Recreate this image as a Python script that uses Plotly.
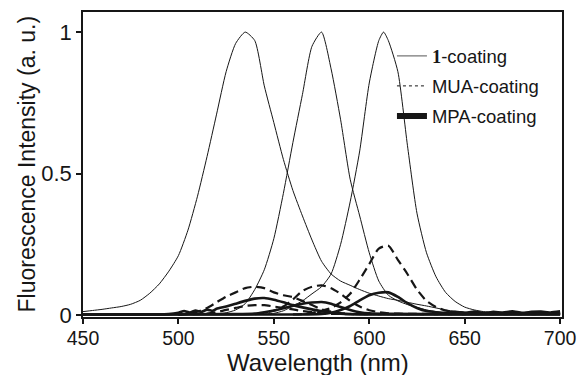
import plotly.graph_objects as go

# ---- data ----
wl_a = [450, 455, 460, 465, 470, 475, 480, 485, 490, 495, 500, 505, 510, 515, 520, 525, 530, 535, 540,
        545, 550, 555, 560, 565, 570, 575, 580, 585, 590, 595, 600, 605, 610, 615, 620, 625, 630, 635,
        640, 645, 650, 655, 660, 665, 670, 675, 680, 685, 690, 695, 700]
coat1_a = [0.012, 0.016, 0.020, 0.025, 0.030, 0.038, 0.052, 0.077, 0.11, 0.155, 0.21, 0.30, 0.42, 0.56,
           0.71, 0.86, 0.96, 1.0, 0.97, 0.81, 0.68, 0.55, 0.44, 0.35, 0.265, 0.19, 0.145, 0.12, 0.105,
           0.09, 0.077, 0.067, 0.058, 0.052, 0.045, 0.038, 0.032, 0.025, 0.018, 0.013, 0.010, 0.008,
           0.007, 0.006, 0.006, 0.005, 0.005, 0.004, 0.005, 0.004, 0.004]

wl_b = [450, 480, 510, 520, 525, 530, 535, 540, 545, 550, 555, 560, 565, 570, 575, 580, 585, 590, 595,
        600, 605, 610, 615, 620, 625, 630, 635, 640, 650, 660, 680, 700]
coat1_b = [0.002, 0.002, 0.003, 0.004, 0.008, 0.018, 0.04, 0.09, 0.16, 0.27, 0.43, 0.61, 0.78, 0.95,
           1.0, 0.87, 0.69, 0.48, 0.35, 0.22, 0.12, 0.07, 0.05, 0.037, 0.027, 0.018, 0.012, 0.008,
           0.006, 0.005, 0.005, 0.004]

wl_c = [450, 500, 540, 550, 555, 560, 565, 570, 575, 580, 585, 590, 595, 600, 605, 607.5, 610, 615,
        620, 625, 630, 635, 640, 645, 650, 655, 660, 665, 670, 680, 690, 700]
coat1_c = [0.002, 0.002, 0.003, 0.006, 0.015, 0.032, 0.05, 0.075, 0.10, 0.145, 0.25, 0.40, 0.58, 0.82,
           0.97, 1.0, 0.97, 0.86, 0.60, 0.36, 0.22, 0.135, 0.08, 0.048, 0.028, 0.018, 0.012, 0.010,
           0.009, 0.008, 0.008, 0.008]

wl_mua1 = [500, 505, 510, 515, 520, 525, 530, 535, 540, 545, 550, 555, 560, 565, 570, 575, 580, 585,
           590, 600, 650, 700]
mua_1 = [0.0, 0.005, 0.012, 0.025, 0.045, 0.065, 0.08, 0.095, 0.10, 0.095, 0.08, 0.07, 0.063, 0.05,
         0.035, 0.02, 0.012, 0.007, 0.004, 0.003, 0.003, 0.003]

wl_mua2 = [540, 545, 550, 555, 560, 565, 570, 575, 580, 585, 590, 595, 600, 605, 610, 620, 660, 700]
mua_2 = [0.003, 0.008, 0.015, 0.03, 0.055, 0.085, 0.10, 0.105, 0.095, 0.075, 0.05, 0.03, 0.017, 0.01,
         0.006, 0.004, 0.004, 0.004]

wl_mua3 = [560, 565, 570, 575, 580, 585, 590, 595, 600, 605, 610, 615, 620, 625, 630, 635, 640, 645,
           650, 660, 680, 700]
mua_3 = [0.002, 0.003, 0.008, 0.015, 0.025, 0.045, 0.075, 0.125, 0.18, 0.235, 0.245, 0.195, 0.145,
         0.09, 0.05, 0.028, 0.016, 0.010, 0.007, 0.006, 0.005, 0.005]

wl_mua4 = [500, 515, 520, 525, 530, 535, 540, 545, 550, 555, 560, 565, 570, 575, 580, 600, 650, 700]
mua_4 = [0.002, 0.005, 0.010, 0.018, 0.025, 0.032, 0.035, 0.035, 0.030, 0.025, 0.020, 0.014, 0.010,
         0.006, 0.004, 0.003, 0.003, 0.003]

wl_mpa1 = [450, 480, 495, 500, 503, 506, 509, 512, 515, 518, 520, 525, 530, 535, 540, 545, 550, 555,
           560, 565, 570, 575, 580, 585, 590, 600, 650, 700]
mpa_1 = [0.002, 0.002, 0.003, 0.008, 0.014, 0.009, 0.016, 0.011, 0.019, 0.015, 0.022, 0.030, 0.040,
         0.050, 0.058, 0.060, 0.054, 0.045, 0.035, 0.027, 0.020, 0.013, 0.008, 0.005, 0.003, 0.002,
         0.002, 0.002]

wl_mpa2 = [450, 560, 575, 580, 585, 590, 595, 600, 605, 610, 615, 620, 625, 630, 635, 640, 645, 650,
           655, 660, 665, 670, 675, 680, 685, 690, 695, 700]
mpa_2 = [0.002, 0.002, 0.004, 0.008, 0.018, 0.032, 0.052, 0.070, 0.079, 0.080, 0.064, 0.042, 0.025,
         0.014, 0.010, 0.008, 0.011, 0.008, 0.012, 0.007, 0.011, 0.009, 0.013, 0.008, 0.011, 0.012,
         0.009, 0.013]

wl_mpa3 = [450, 530, 540, 545, 550, 555, 560, 565, 570, 575, 580, 585, 590, 595, 600, 610, 650, 700]
mpa_3 = [0.002, 0.003, 0.005, 0.010, 0.016, 0.024, 0.033, 0.040, 0.044, 0.046, 0.040, 0.028, 0.018,
         0.010, 0.006, 0.004, 0.003, 0.003]

legend_names = ["<span style=\"font-family:'Liberation Serif';font-weight:bold\">1</span>-coating",
                "MUA-coating", "MPA-coating"]
x_ticks = [450, 500, 550, 600, 650, 700]
y_ticks = [0, 0.5, 1]
y_ticktext = ["0", "0.5", "1"]

INK = "#161616"
fig = go.Figure()

for x, y in [(wl_a, coat1_a), (wl_b, coat1_b), (wl_c, coat1_c)]:
    fig.add_trace(go.Scatter(x=x, y=y, mode="lines", showlegend=False,
                             line=dict(color=INK, width=1, shape="spline", smoothing=0.6)))
for x, y in [(wl_mua1, mua_1), (wl_mua2, mua_2), (wl_mua3, mua_3), (wl_mua4, mua_4)]:
    fig.add_trace(go.Scatter(x=x, y=y, mode="lines", showlegend=False,
                             line=dict(color=INK, width=2.2, dash="9px,5px", shape="spline", smoothing=0.6)))
for x, y in [(wl_mpa1, mpa_1), (wl_mpa2, mpa_2), (wl_mpa3, mpa_3)]:
    fig.add_trace(go.Scatter(x=x, y=y, mode="lines", showlegend=False,
                             line=dict(color=INK, width=2.6, shape="spline", smoothing=0.4)))

# legend-only entries
leg_styles = [dict(color="#777777", width=1.2),
              dict(color=INK, width=1, dash="3px,3px"),
              dict(color=INK, width=6)]
for i, (name, st) in enumerate(zip(legend_names, leg_styles)):
    fig.add_trace(go.Scatter(x=[None], y=[None], mode="lines", name=name, line=st,
                             legendgroup=f"g{i}"))

fig.update_layout(
    width=581, height=375,
    margin=dict(l=83, r=19, t=12, b=58),
    paper_bgcolor="white", plot_bgcolor="white",
    font=dict(family="Liberation Sans, Arial, sans-serif", color=INK),
    showlegend=True,
    legend=dict(x=0.645, y=0.917, xanchor="left", yanchor="top", bgcolor="rgba(0,0,0,0)",
                font=dict(size=18.5, color=INK), tracegroupgap=3, itemwidth=30),
    xaxis=dict(range=[450, 701], tickvals=x_ticks, ticks="outside", ticklen=5, tickwidth=1.5,
               tickcolor=INK, showline=True, linecolor=INK, linewidth=1.5, mirror=True,
               showgrid=False, zeroline=False, automargin=False, ticklabelstandoff=-2,
               tickfont=dict(size=19.5, color=INK)),
    yaxis=dict(range=[-0.007, 1.071], tickvals=y_ticks, ticktext=y_ticktext, ticks="outside",
               ticklen=5, tickwidth=1.5, tickcolor=INK, showline=True, linecolor=INK, linewidth=1.5,
               mirror=True, showgrid=False, zeroline=False, automargin=False,
               tickfont=dict(size=22, color=INK)),
    annotations=[
        dict(text="Wavelength (nm)", xref="paper", yref="paper", x=(318 - 83) / 479,
             y=(317 - 362.5) / 305, xanchor="center", yanchor="middle", showarrow=False,
             font=dict(size=24, color=INK)),
        dict(text="Fluorescence Intensity (a. u.)", xref="paper", yref="paper",
             x=(26 - 83) / 479, y=0.5, xanchor="center", yanchor="middle", textangle=-90,
             showarrow=False, font=dict(size=23, color=INK)),
    ],
)

fig.write_html("out.html", config={"displayModeBar": False},
               post_script="document.body.style.margin='0px';document.body.style.padding='0px';")
